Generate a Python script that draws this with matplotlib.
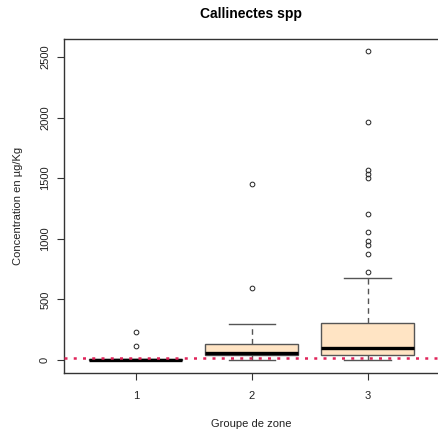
import matplotlib.pyplot as plt

plt.rcParams['font.family'] = ['Liberation Sans', 'DejaVu Sans']

# boxplot summaries per zone group (µg/Kg)
groups = [1, 2, 3]
q1 = [0, 41, 41]
medians = [3, 55, 100]
q3 = [8, 132, 304]
whis_lo = [0, 0, 0]
whis_hi = [8, 298, 674]
fliers = [
    [115, 233],
    [594, 1452],
    [723, 874, 949, 984, 1053, 1202, 1504, 1532, 1567, 1963, 2552],
]
threshold = 14

stats = []
for i in range(len(groups)):
    stats.append(dict(q1=q1[i], med=medians[i], q3=q3[i],
                      whislo=whis_lo[i], whishi=whis_hi[i], fliers=fliers[i]))

fig = plt.figure(figsize=(4.38, 4.34), dpi=100)
ax = fig.add_axes([64 / 438, 1 - 373 / 434, 375.5 / 438, 334 / 434])

edge = '#555555'
ax.bxp(stats, positions=groups, widths=0.8, patch_artist=True,
       boxprops=dict(facecolor='#FFE4C4', edgecolor=edge, linewidth=1.0),
       medianprops=dict(color='black', linewidth=2.4, solid_capstyle='butt'),
       whiskerprops=dict(color=edge, linestyle=(0, (4, 3)), linewidth=1.0),
       capprops=dict(color=edge, linewidth=1.0),
       capwidths=0.4,
       flierprops=dict(marker='o', markerfacecolor='none', markeredgecolor='#222222',
                       markersize=3.4, markeredgewidth=0.7))

ax.axhline(threshold, color='#e0245a', linestyle=(0, (1.2, 2.5)), linewidth=1.8, zorder=5)

ax.set_xlim(0.38, 3.62)
ax.set_ylim(-107, 2648)
ax.set_xticks(groups)
ax.set_xticklabels([str(g) for g in groups])
ax.set_yticks([0, 500, 1000, 1500, 2000, 2500])
ax.set_yticklabels(['0', '500', '1000', '1500', '2000', '2500'], rotation=90, va='center')
ax.tick_params(axis='both', labelsize=8, length=5, width=0.8, color='#333333',
               labelcolor='#222222')
ax.tick_params(axis='x', pad=8)
ax.tick_params(axis='y', pad=5)
for s in ax.spines.values():
    s.set_color('#333333')
    s.set_linewidth(1.0)

ax.set_xlabel('Groupe de zone', fontsize=8, color='#222222', labelpad=13)
ax.set_ylabel('Concentration en µg/Kg', fontsize=8, color='#222222', labelpad=12)
fig.text(251 / 438, 1 - 14 / 434, 'Callinectes spp', ha='center', va='center',
         fontsize=10, fontweight='bold')

fig.savefig('out.png', dpi=100)
